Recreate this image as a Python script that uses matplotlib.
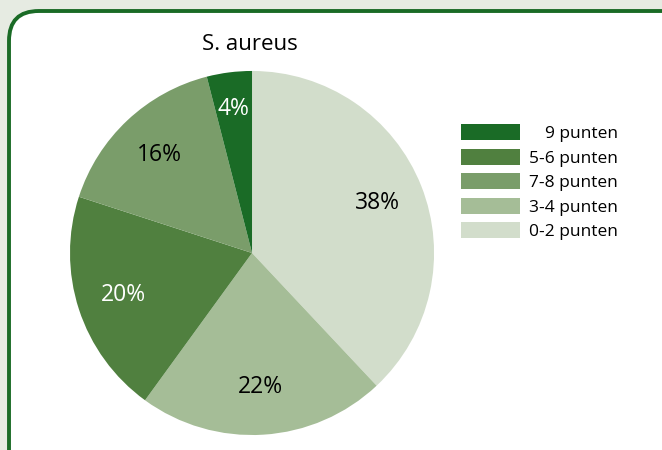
import matplotlib
matplotlib.use("Agg")
import matplotlib.pyplot as plt
import numpy as np
from matplotlib.patches import FancyBboxPatch

# slices, clockwise from 12 o'clock
labels = ['0-2 punten', '3-4 punten', '5-6 punten', '7-8 punten', '9 punten']
values = [38, 22, 20, 16, 4]
colors = ['#d2ddcb', '#a5bd97', '#50803f', '#7a9d6a', '#1a6b26']
pct_colors = ['black', 'black', 'white', 'black', 'white']
legend_order = ['9 punten', '5-6 punten', '7-8 punten', '3-4 punten', '0-2 punten']
title = 'S. aureus'

plt.rcParams['font.family'] = ['Open Sans', 'DejaVu Sans']

fig = plt.figure(figsize=(6.62, 4.5), dpi=100)
fig.patch.set_facecolor('#e6ebe2')

# rounded white panel with green border
panel = FancyBboxPatch((9 / 662, -0.2), 1.2, 1 - 11 / 450 + 0.2,
                       boxstyle="round,pad=0,rounding_size=0.045",
                       transform=fig.transFigure, facecolor='white',
                       edgecolor='#1a6b26', linewidth=2.8, zorder=-5,
                       mutation_aspect=662 / 450)
fig.patches.append(panel)

ax = fig.add_axes([0.1057, 0.0333, 0.55, 0.809])
ax.patch.set_visible(False)
wedges, texts, autotexts = ax.pie(values, colors=colors, startangle=90, counterclock=False,
                                  autopct='%d%%', pctdistance=0.74,
                                  wedgeprops=dict(linewidth=0),
                                  textprops=dict(fontsize=16.5))
for t, c in zip(autotexts, pct_colors):
    t.set_color(c)
# the thin 4% slice has its label a bit further out
w = wedges[-1]
mid = np.deg2rad((w.theta1 + w.theta2) / 2)
autotexts[-1].set_position((0.8 * np.cos(mid), 0.8 * np.sin(mid)))
ax.set_xlim(-1, 1)
ax.set_ylim(-1, 1)
ax.set_aspect('equal')

fig.text(250 / 662, 1 - 45 / 450, title, ha='center', va='center', fontsize=16)

handles = [wedges[labels.index(l)] for l in legend_order]
leg = fig.legend(handles, legend_order, loc='upper left', bbox_to_anchor=(461 / 662, 1 - 124 / 450),
                 frameon=False, fontsize=12.5, handlelength=3.4, handleheight=1.05,
                 labelspacing=0.38, handletextpad=0.5, borderpad=0, borderaxespad=0)

# right-align the legend labels
fig.canvas.draw()
renderer = fig.canvas.get_renderer()
widths = [t.get_window_extent(renderer).width for t in leg.get_texts()]
for t, w in zip(leg.get_texts(), widths):
    t.set_position((max(widths) - w, 0))

fig.savefig('out.png', dpi=100, facecolor=fig.get_facecolor())
